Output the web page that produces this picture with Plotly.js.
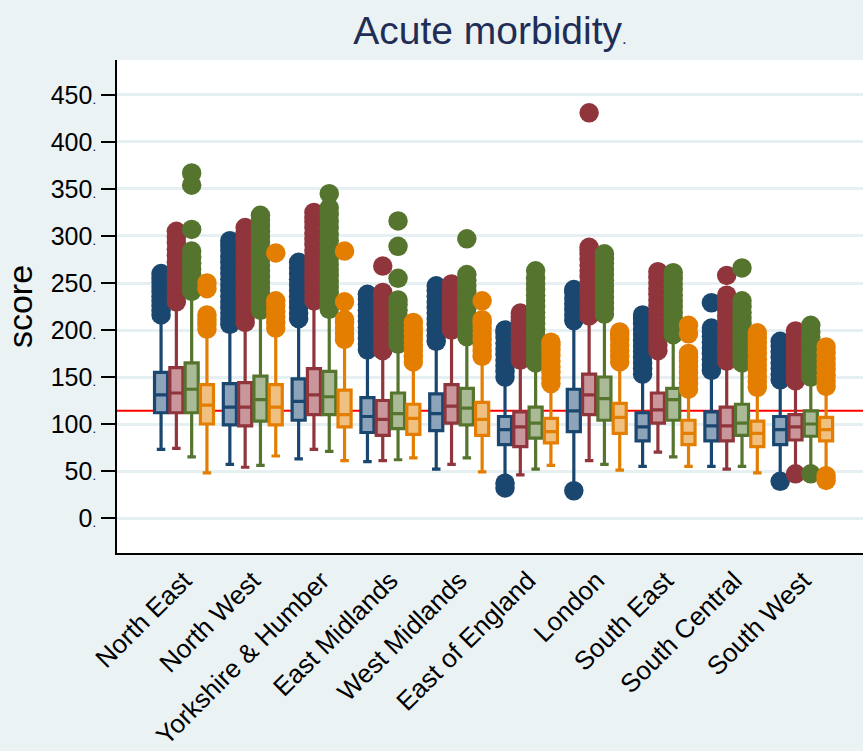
<!DOCTYPE html>
<html>
<head>
<meta charset="utf-8">
<script src="https://cdn.plot.ly/plotly-3.0.1.min.js"></script>
<style>html,body{margin:0;padding:0;background:#eaf2f3;}#chart{width:863px;height:751px;}</style>
</head>
<body>
<div id="chart"></div>
<script>
// ---------- DATA ----------
const regions = ["North East","North West","Yorkshire & Humber","East Midlands","West Midlands",
                 "East of England","London","South East","South Central","South West"];
const seriesNames = ["Series 1","Series 2","Series 3","Series 4"];
const yTickValues = [0,50,100,150,200,250,300,350,400,450];
const yTickLabels = ["0","50","100","150","200","250","300","350","400","450"];
const referenceScore = 114;

// Series 1 (navy)
const s1Q1     = [112, 99,104, 91, 93, 78, 92, 82, 82, 78];
const s1Median = [131,118,124,108,111, 94,114, 97, 98, 94];
const s1Q3     = [155,143,148,128,132,108,137,112,113,108];
const s1Low    = [ 73, 57, 63, 60, 52, 42, 35, 55, 55, 45];
const s1High   = [212,202,208,175,184,146,206,149,153,143];
const s1Outliers = [
  [216,221,226,231,236,241,246,251,255,260],
  [206,212,218,224,230,236,242,248,254,260,266,272,278,285,290,295],
  [212,218,224,230,236,242,248,254,260,266,272],
  [179,185,191,197,203,209,215,221,227,233,238],
  [188,194,200,206,212,218,224,230,236,242,247],
  [32,37,150,156,162,168,174,180,186,192,197,200],
  [29,210,216,222,228,234,240,243],
  [153,159,165,171,177,183,189,195,201,207,212,216],
  [157,163,169,175,181,187,193,198,202,229],
  [39,147,153,159,165,171,177,183,188]
];

// Series 2 (maroon)
const s2Q1     = [112, 98,110, 88,101, 76,110,101, 82, 83];
const s2Median = [133,118,131,105,119, 97,131,115, 98, 97];
const s2Q3     = [160,144,159,125,142,113,153,133,118,110];
const s2Low    = [ 74, 54, 73, 61, 57, 46, 61, 70, 52, 52];
const s2High   = [226,204,227,174,196,164,211,174,163,142];
const s2Outliers = [
  [230,236,242,248,254,260,266,272,279,286,293,299,305],
  [208,214,220,226,232,238,244,250,256,262,268,274,280,286,292,298,304,309],
  [231,237,243,249,255,261,267,273,279,285,291,297,303,309,315,320,325],
  [178,184,190,196,202,208,214,220,226,232,237,240,268],
  [200,206,212,218,224,230,236,242,249],
  [168,174,180,186,192,198,204,210,214,218],
  [215,221,227,233,239,245,251,257,263,269,275,281,285,288,431],
  [178,184,190,196,202,208,214,220,226,232,238,244,250,256,262],
  [167,173,179,185,191,197,203,209,215,221,227,232,237,258],
  [47,146,152,158,164,170,176,182,188,194,199]
];

// Series 3 (green)
const s3Q1     = [112,103,110, 95, 99, 85,104,104, 88, 87];
const s3Median = [137,126,129,111,117,101,127,126,101,100];
const s3Q3     = [165,151,156,133,138,118,150,138,121,114];
const s3Low    = [ 65, 56, 71, 62, 64, 52, 57, 65, 55, 52];
const s3High   = [237,217,218,181,189,161,213,191,161,146];
const s3Outliers = [
  [241,247,253,259,265,271,277,284,307,354,367],
  [221,227,233,239,245,251,257,263,269,275,281,287,293,299,305,311,317,322],
  [222,228,234,240,246,252,258,264,270,276,281,288,295,302,309,316,323,330,345],
  [185,191,197,203,209,215,221,227,232,255,289,316],
  [193,199,205,211,217,223,229,235,241,247,253,259,297],
  [165,171,177,183,189,195,201,207,213,219,225,231,237,243,249,255,263],
  [217,223,229,235,241,247,253,259,265,271,276,281],
  [195,201,207,213,219,225,231,237,243,249,255,261],
  [165,171,177,183,189,195,201,207,213,219,225,231,266],
  [47,150,156,162,168,174,180,186,192,198,205]
];

// Series 4 (orange)
const s4Q1     = [100, 99, 97, 89, 88, 80, 90, 78, 76, 82];
const s4Median = [120,118,110,106,105, 92,107, 90, 90, 94];
const s4Q3     = [142,142,136,121,123,106,122,104,103,107];
const s4Low    = [ 48, 66, 61, 64, 49, 56, 51, 55, 48, 52];
const s4High   = [197,198,186,162,168,139,162,133,135,136];
const s4Outliers = [
  [201,206,211,216,244,250],
  [202,208,214,220,226,231,282],
  [190,196,202,208,211,230,284],
  [166,172,178,184,190,196,202,208],
  [172,178,184,190,196,202,207,211,231],
  [143,149,155,161,167,173,179,184,187],
  [166,172,178,184,190,195,198],
  [137,143,149,155,161,167,171,175,196,205],
  [139,145,151,157,163,169,175,181,187,192,197],
  [40,45,140,146,152,158,164,170,176,182]
];

// ---------- STYLE ----------
const lineColors = ["#1a476f","#90353b","#55752f","#e37e00"];
const fillColors = ["#8ca3b9","#c8969b","#aab996","#f0c080"];
const slot = 0.2224;           // spacing between the 4 boxes of a group (category units)
const boxW = 0.19;

const stats = [
  [s1Q1,s1Median,s1Q3,s1Low,s1High,s1Outliers],
  [s2Q1,s2Median,s2Q3,s2Low,s2High,s2Outliers],
  [s3Q1,s3Median,s3Q3,s3Low,s3High,s3Outliers],
  [s4Q1,s4Median,s4Q3,s4Low,s4High,s4Outliers]
];

const traces = [];
stats.forEach((st, s) => {
  const off = (s - 1.5) * slot;
  const xs = regions.map((_, i) => i + off);
  traces.push({
    type: 'box', name: seriesNames[s], x: xs,
    q1: st[0], median: st[1], q3: st[2], lowerfence: st[3], upperfence: st[4],
    width: boxW, boxpoints: false, whiskerwidth: 0.65,
    fillcolor: fillColors[s], line: {color: lineColors[s], width: 3.2},
    hoverinfo: 'skip', showlegend: false
  });
});
stats.forEach((st, s) => {
  const off = (s - 1.5) * slot;
  const ox = [], oy = [];
  st[5].forEach((arr, i) => arr.forEach(v => { ox.push(i + off); oy.push(v); }));
  traces.push({
    type: 'scatter', mode: 'markers', name: seriesNames[s] + ' outliers', x: ox, y: oy,
    marker: {size: 19.5, color: lineColors[s], line: {width: 0}},
    hoverinfo: 'skip', showlegend: false
  });
});

const font = "Arial, 'Liberation Sans', Helvetica, sans-serif";
const dot = '<span style="font-size:13px">.</span>';

const layout = {
  width: 863, height: 751,
  margin: {l: 117, r: 0, t: 60, b: 198},
  paper_bgcolor: '#eaf2f3', plot_bgcolor: '#ffffff',
  font: {family: font, color: '#000'},
  title: {
    text: 'Acute morbidity<span style="font-size:17px">.</span>',
    font: {family: font, size: 39, color: '#1f2d57'},
    x: 0.5, xref: 'paper', xanchor: 'center', y: 0.96, yref: 'container', yanchor: 'middle'
  },
  xaxis: {
    range: [-0.974, 9.87], tickvals: regions.map((_, i) => i), ticktext: regions,
    tickangle: -45, tickfont: {size: 26, color: '#000'},
    showgrid: false, zeroline: false, showline: true, linecolor: '#000', linewidth: 2,
    ticks: '', fixedrange: true
  },
  yaxis: {
    range: [-37.2, 487.2], tickvals: yTickValues, ticktext: yTickLabels.map(t => t + dot),
    tickfont: {size: 25, color: '#000'},
    ticks: 'outside', ticklen: 14, tickwidth: 2, tickcolor: '#000',
    showline: true, linecolor: '#000', linewidth: 2,
    showgrid: true, gridcolor: '#e6eff1', gridwidth: 3, zeroline: false,
    title: {text: 'score', font: {size: 34, color: '#000'}, standoff: 8},
    fixedrange: true
  },
  shapes: [{
    type: 'line', xref: 'paper', x0: 0, x1: 1, yref: 'y', y0: referenceScore, y1: referenceScore,
    line: {color: '#ff0000', width: 2}, layer: 'below'
  }],
  showlegend: false
};

Plotly.newPlot('chart', traces, layout, {displayModeBar: false, staticPlot: true});
</script>
</body>
</html>
